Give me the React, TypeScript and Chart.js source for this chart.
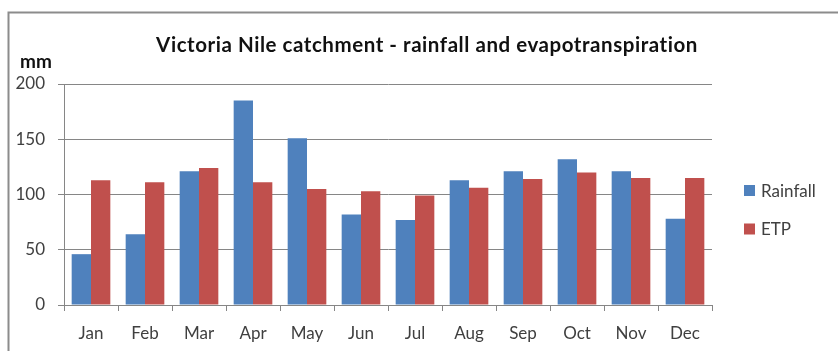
import React, { useEffect, useRef } from "react";
import { Chart, registerables } from "chart.js";

Chart.register(...registerables);

const months = ["Jan", "Feb", "Mar", "Apr", "May", "Jun", "Jul", "Aug", "Sep", "Oct", "Nov", "Dec"];
const rainfall = [46, 64, 121, 185, 151, 82, 77, 113, 121, 132, 121, 78];
const etp = [113, 111, 124, 111, 105, 103, 99, 106, 114, 120, 115, 115];
const yTicks = [0, 50, 100, 150, 200];

const titleText = "Victoria Nile catchment - rainfall and evapotranspiration";
const unitText = "mm";

const BLUE = "#4F81BD";
const RED = "#C0504D";
const GRID = "#868686";
const TEXT = "#404040";
const FONT = "Lato, 'Open Sans', sans-serif";

// Frame, title, unit label and legend drawn on top of the plot
const decorations = {
  id: "decorations",
  afterDraw(chart: any) {
    const ctx = chart.ctx as CanvasRenderingContext2D;
    ctx.save();

    // outer frame
    ctx.strokeStyle = "#8c8c8c";
    ctx.lineWidth = 2;
    ctx.beginPath();
    ctx.moveTo(8.5, 400);
    ctx.lineTo(8.5, 12.5);
    ctx.lineTo(900, 12.5);
    ctx.stroke();

    // title
    ctx.fillStyle = "#111111";
    ctx.font = `bold 20.5px ${FONT}`;
    (ctx as any).letterSpacing = "0.55px";
    ctx.textAlign = "center";
    ctx.textBaseline = "alphabetic";
    ctx.fillText(titleText, 427, 52);
    (ctx as any).letterSpacing = "0px";

    // unit
    ctx.font = `bold 19px ${FONT}`;
    ctx.textAlign = "left";
    ctx.fillText(unitText, 20, 68);

    // legend
    const items = chart.data.datasets;
    ctx.font = `17px ${FONT}`;
    ctx.textBaseline = "middle";
    items.forEach((ds: any, i: number) => {
      const cy = 190.5 + i * 38.5;
      ctx.fillStyle = ds.backgroundColor;
      ctx.fillRect(744, cy - 5.5, 11, 11);
      ctx.fillStyle = TEXT;
      ctx.fillText(ds.label, 761, cy + 1);
    });

    ctx.restore();
  },
};

export default function App() {
  const ref = useRef<HTMLCanvasElement | null>(null);

  useEffect(() => {
    if (!ref.current) return;
    const chart = new Chart(ref.current, {
      type: "bar",
      data: {
        labels: months,
        datasets: [
          { label: "Rainfall", data: rainfall, backgroundColor: BLUE },
          { label: "ETP", data: etp, backgroundColor: RED },
        ],
      },
      plugins: [decorations],
      options: {
        responsive: false,
        animation: false,
        devicePixelRatio: 1,
        layout: { padding: { top: 84, right: 126, bottom: 0, left: 0 } },
        datasets: { bar: { barPercentage: 1, categoryPercentage: 0.716 } },
        plugins: {
          legend: { display: false },
          title: { display: false },
          tooltip: { enabled: false },
        },
        scales: {
          x: {
            afterFit: (s: any) => {
              s.height = 46;
            },
            grid: {
              offset: true,
              drawOnChartArea: false,
              drawTicks: true,
              tickLength: 6,
              color: GRID,
            },
            border: { display: true, color: GRID, width: 1 },
            ticks: { color: TEXT, font: { family: FONT, size: 17 }, padding: 12 },
          },
          y: {
            min: 0,
            max: 200,
            afterFit: (s: any) => {
              s.width = 64;
            },
            afterBuildTicks: (s: any) => {
              s.ticks = yTicks.map((v) => ({ value: v }));
            },
            grid: { color: GRID, tickLength: 6, drawTicks: true },
            border: { display: true, color: GRID, width: 1 },
            ticks: { color: TEXT, font: { family: FONT, size: 17 }, padding: 13 },
          },
        },
      },
    });
    return () => chart.destroy();
  }, []);

  return (
    <div style={{ position: "fixed", left: 0, top: 0, width: 838, height: 351, background: "#fff" }}>
      <canvas ref={ref} width={838} height={351} style={{ display: "block" }} />
    </div>
  );
}
